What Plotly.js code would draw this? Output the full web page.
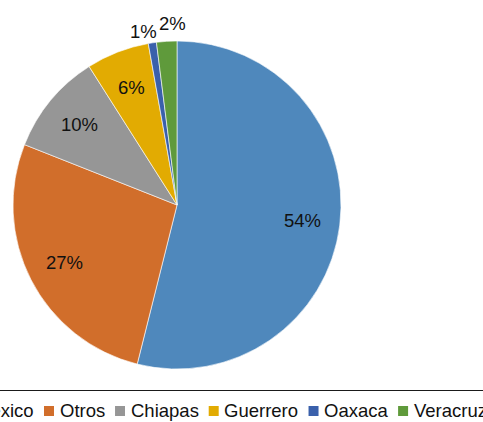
<!DOCTYPE html>
<html><head><meta charset="utf-8">
<script src="https://cdn.plot.ly/plotly-3.0.1.min.js"></script>
<style>html,body{margin:0;padding:0;background:#fff;overflow:hidden}</style>
</head><body><div id="chart" style="width:483px;height:422px"></div>
<script>
// ---- data ----
const categories = ["México", "Otros", "Chiapas", "Guerrero", "Oaxaca", "Veracruz"];
const shares = [53.9, 27.1, 10.0, 6.2, 0.8, 2.0];
const sliceColors = ["#4F88BC", "#D16E2B", "#969696", "#E2AB02", "#3A60AB", "#5F9A3B"];

// ---- layout constants ----
const W = 483, H = 422;
const FONT = "'Liberation Sans', Arial, Helvetica, sans-serif";
const FS = 18.5;
const cx = 177, cy = 205, R = 164;   // pie geometry in pixels
const px = x => x / W, py = y => 1 - y / H;

const total = shares.reduce((a, b) => a + b, 0);
const annotations = [];
const shapes = [];

const cnv = document.createElement("canvas").getContext("2d");
cnv.font = FS + "px " + FONT;
const tw = t => cnv.measureText(t).width;

// percent labels positioned from the data
let cum = 0;
const outside = [];
shares.forEach((v, i) => {
  const mid = (cum + v / 2) / total * 2 * Math.PI;
  cum += v;
  const pct = Math.round(v / total * 100) + "%";
  const isOut = v / total < 0.03;
  const rr = isOut ? 1.09 * R : 0.77 * R;
  const x = cx + rr * Math.sin(mid), y = cy - rr * Math.cos(mid);
  const a = {text: pct, x: x, y: y};
  if (isOut) outside.push(a);
  annotations.push(a);
});
// separate overlapping outside labels (horizontal spread, slight stagger)
outside.sort((a, b) => a.x - b.x);
for (let k = 1; k < outside.length; k++) {
  const a = outside[k - 1], b = outside[k];
  const need = (tw(a.text) + tw(b.text)) / 2 + 3;
  const gap = b.x - a.x;
  if (gap < need) { const d = (need - gap) / 2; a.x -= d; b.x += d; a.y += 3; b.y -= 3; }
}
annotations.forEach(a => {
  a.x = px(a.x); a.y = py(a.y);
  a.xref = "paper"; a.yref = "paper";
  a.xanchor = "center"; a.yanchor = "middle";
  a.showarrow = false; a.borderpad = 0; a.borderwidth = 0;
  a.font = {family: FONT, size: FS, color: "#111"};
});

// legend line
shapes.push({type: "line", xref: "paper", yref: "paper", x0: 0, x1: 1,
  y0: py(390.5), y1: py(390.5), line: {color: "#1a1a1a", width: 1.2}});

// custom legend (single row, clipped by the window like the reference)
const sq = 10, sqGap = 5.5, itemGap = 10.3;
const legY = 411;
let lx = 44 - (tw(categories[0]) + sq + sqGap + itemGap);
categories.forEach((c, i) => {
  shapes.push({type: "rect", xref: "paper", yref: "paper",
    x0: px(lx), x1: px(lx + sq), y0: py(legY - sq / 2), y1: py(legY + sq / 2),
    fillcolor: sliceColors[i], line: {width: 0}});
  annotations.push({text: c, xref: "paper", yref: "paper",
    x: px(lx + sq + sqGap), y: py(legY - 1), xanchor: "left", yanchor: "middle",
    showarrow: false, borderpad: 0, borderwidth: 0,
    font: {family: FONT, size: FS, color: "#111"}});
  lx += sq + sqGap + tw(c) + itemGap;
});

const trace = {
  type: "pie",
  labels: categories,
  values: shares,
  sort: false,
  direction: "clockwise",
  rotation: 0,
  textinfo: "none",
  hoverinfo: "label+percent",
  marker: {colors: sliceColors, line: {color: "#ffffff", width: 0.6}},
  domain: {x: [px(cx - R), px(cx + R)], y: [py(cy + R), py(cy - R)]},
  showlegend: false
};

Plotly.newPlot("chart", [trace], {
  width: W, height: H,
  margin: {l: 0, r: 0, t: 0, b: 0},
  paper_bgcolor: "#fff", plot_bgcolor: "#fff",
  showlegend: false,
  font: {family: FONT, size: FS, color: "#111"},
  annotations: annotations,
  shapes: shapes
}, {displayModeBar: false, staticPlot: true});
</script></body></html>
